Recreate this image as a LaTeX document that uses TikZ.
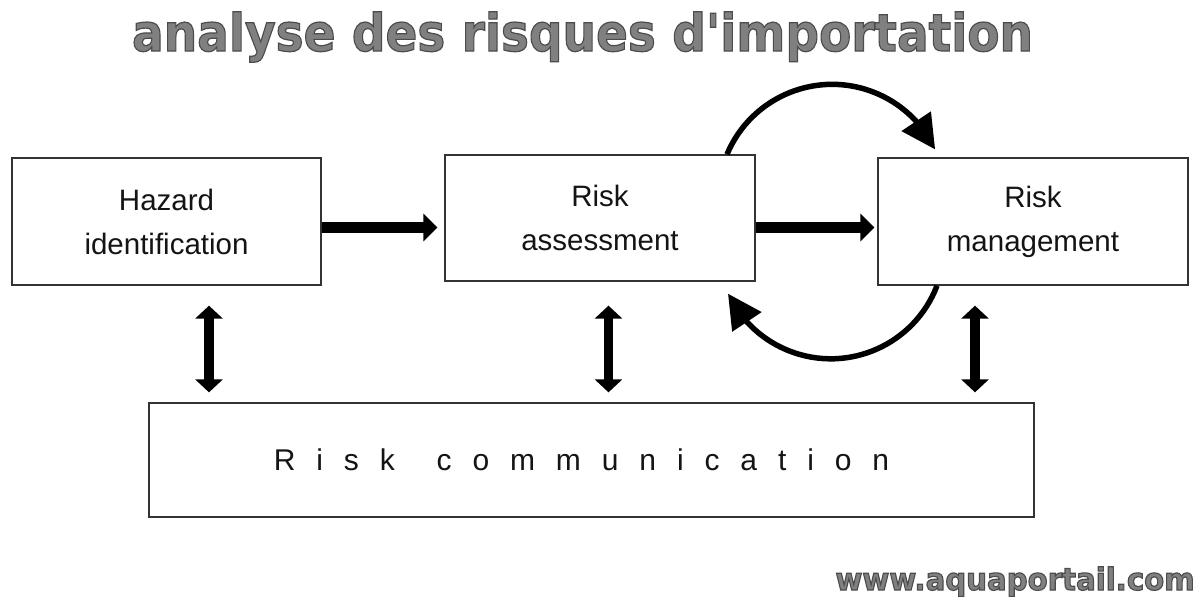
\documentclass[tikz,border=0pt]{standalone}
\usepackage{fontspec}
\setmainfont{Liberation Sans}
\newfontfamily\titlefont{DejaVu Sans}[Ligatures=TeXOff]
\usetikzlibrary{arrows.meta,bending}
\newcommand\outlined[1]{\special{pdf:literal direct 2 Tr 1.1 w 0.3 0.3 0.3 RG}#1\special{pdf:literal direct 0 Tr}}
\newcommand\gp{\hspace{20.9pt}}
\begin{document}
\begin{tikzpicture}[x=1pt,y=-1pt,
  box/.style={draw=black!80, line width=1.3pt, fill=white, inner sep=0pt, align=center,
    text=black!92, font=\fontsize{29.5}{44}\selectfont},
  thickarrow/.style={line width=11pt, -{Triangle[length=14pt,width=27pt]}},
  dblarrow/.style={line width=9.5pt, {Triangle[length=13pt,width=27pt]}-{Triangle[length=13pt,width=27pt]}},
  looparrow/.style={line width=5.5pt, -{Triangle[length=34pt,width=34pt]}},
  logo/.style={text=black!50, inner sep=0pt}]
\useasboundingbox (0,0) rectangle (1200,600);
\fill[white] (0,0) rectangle (1200,600);

\node[logo, font=\titlefont\bfseries\fontsize{47}{50}\selectfont, anchor=base] (title) at (582.5,51) {\scalebox{1}[1.1]{\outlined{analyse des risques d'importation}}};
\node[logo, font=\titlefont\bfseries\fontsize{29.2}{30}\selectfont, anchor=base] (web) at (1015,590) {\scalebox{1}[1.05]{\outlined{www.aquaportail.com}}};

\node[box, minimum width=309pt, minimum height=127pt] (haz) at (166.5,221.5) {Hazard\\identification};
\node[box, minimum width=310pt, minimum height=126pt] (ra) at (600,218) {Risk\\assessment};
\node[box, minimum width=310pt, minimum height=127pt] (rm) at (1033,221.5) {Risk\\management};
\node[box, minimum width=885pt, minimum height=114pt, font=\fontsize{30}{36}\selectfont] (rc) at (591.5,460)
  {R\gp i\gp s\gp k\gp\gp c\gp o\gp m\gp m\gp u\gp n\gp i\gp c\gp a\gp t\gp i\gp o\gp n\hspace{20pt}};

\draw[thickarrow, shorten >=7pt] ([yshift=-6pt]haz.east) -- ([yshift=-6pt]haz.east -| ra.west);
\draw[thickarrow, shorten >=3pt] ([yshift=-9.5pt]ra.east) -- ([yshift=-9.5pt]ra.east -| rm.west);

\draw[dblarrow, shorten <=20pt, shorten >=10pt] ([xshift=42.5pt]haz.south) -- ([xshift=42.5pt]haz.south |- rc.north);
\draw[dblarrow, shorten <=24pt, shorten >=10pt] ([xshift=8.5pt]ra.south) -- ([xshift=8.5pt]ra.south |- rc.north);
\draw[dblarrow, shorten <=20pt, shorten >=10pt] ([xshift=-58pt]rm.south) -- ([xshift=-58pt]rm.south |- rc.north);

\draw[looparrow] ([xshift=127pt]ra.north) arc[start angle=202.7, end angle=334.6, radius=114];
\draw[looparrow] ([xshift=-96pt]rm.south) arc[start angle=20.9, end angle=154.7, radius=113.7];
\end{tikzpicture}
\end{document}
